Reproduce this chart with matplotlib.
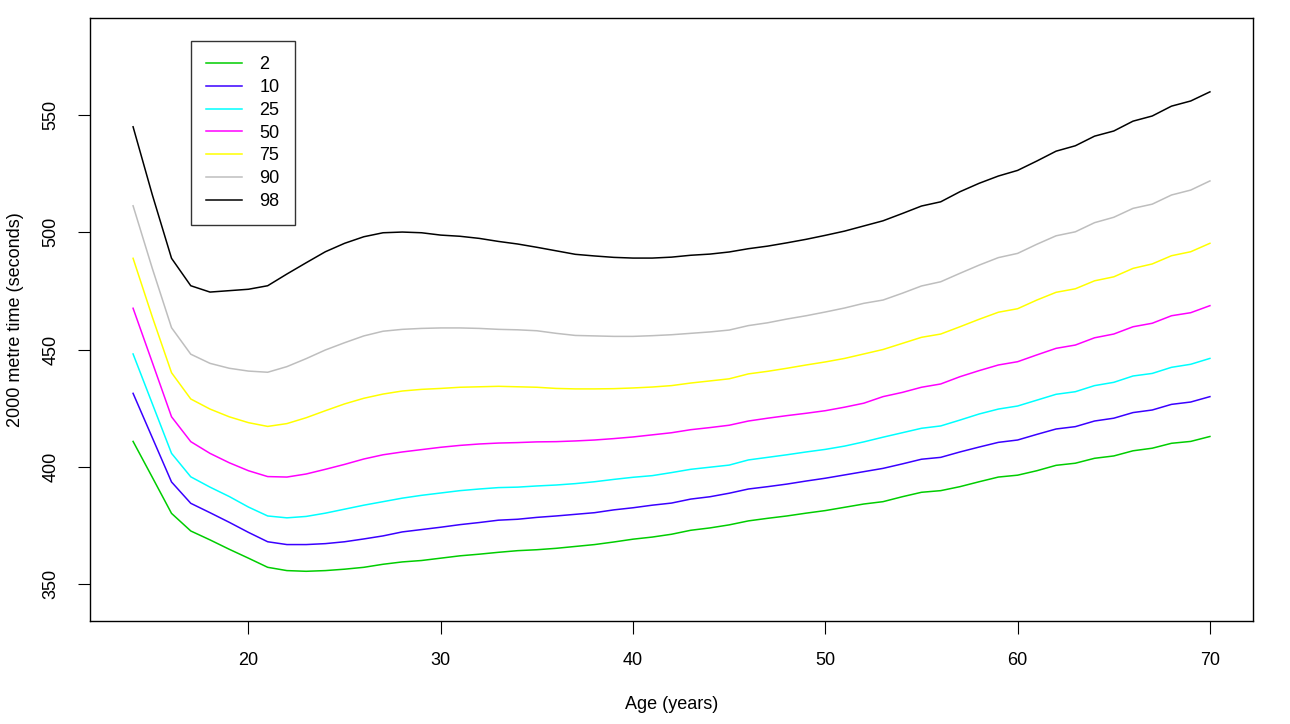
import numpy as np
import matplotlib.pyplot as plt

plt.rcParams['font.family'] = ['Liberation Sans', 'DejaVu Sans']

# ages 14..70 (one point per year)
age = list(range(14, 71))

# centile curves (seconds)
c02 = [410.8, 395.5, 380.1, 372.6, 368.8, 364.8, 361.0, 357.1, 355.7, 355.4,
       355.7, 356.3, 357.1, 358.4, 359.4, 360.0, 361.0, 362.0, 362.7, 363.5,
       364.2, 364.6, 365.2, 366.0, 366.8, 367.9, 369.1, 370.0, 371.2, 372.9,
       373.9, 375.2, 376.9, 378.0, 379.0, 380.2, 381.3, 382.7, 384.1, 385.1,
       387.2, 389.1, 389.8, 391.5, 393.6, 395.6, 396.4, 398.3, 400.6, 401.5,
       403.6, 404.6, 406.8, 407.9, 410.0, 410.8, 412.9]
c10 = [431.3, 412.4, 393.5, 384.4, 380.4, 376.3, 372.0, 368.0, 366.8, 366.8,
       367.2, 368.0, 369.2, 370.5, 372.2, 373.2, 374.2, 375.3, 376.2, 377.2,
       377.6, 378.4, 379.0, 379.7, 380.4, 381.6, 382.5, 383.6, 384.5, 386.2,
       387.2, 388.7, 390.5, 391.5, 392.6, 393.9, 395.1, 396.5, 397.9, 399.3,
       401.2, 403.2, 404.0, 406.3, 408.4, 410.4, 411.4, 413.8, 416.1, 417.1,
       419.5, 420.7, 423.1, 424.2, 426.6, 427.6, 429.9]
c25 = [448.1, 426.9, 405.7, 395.7, 391.3, 387.3, 382.8, 379.0, 378.2, 378.8,
       380.2, 381.9, 383.6, 385.1, 386.6, 387.8, 388.8, 389.8, 390.5, 391.1,
       391.3, 391.8, 392.2, 392.8, 393.6, 394.6, 395.5, 396.2, 397.5, 398.9,
       399.8, 400.7, 402.9, 404.0, 405.1, 406.3, 407.4, 408.8, 410.6, 412.6,
       414.5, 416.4, 417.4, 419.9, 422.5, 424.6, 425.9, 428.4, 430.9, 432.0,
       434.6, 436.0, 438.7, 439.8, 442.4, 443.7, 446.2]
c50 = [467.6, 444.5, 421.3, 410.7, 405.7, 401.7, 398.3, 395.8, 395.6, 396.9,
       398.9, 401.0, 403.3, 405.1, 406.3, 407.3, 408.3, 409.1, 409.7, 410.1,
       410.3, 410.6, 410.7, 411.0, 411.4, 412.0, 412.7, 413.6, 414.5, 415.8,
       416.7, 417.7, 419.5, 420.7, 421.8, 422.8, 423.9, 425.4, 427.1, 429.9,
       431.7, 433.9, 435.3, 438.4, 441.0, 443.4, 444.8, 447.7, 450.5, 451.9,
       455.0, 456.6, 459.7, 461.2, 464.4, 465.7, 468.7]
c75 = [488.9, 463.9, 440.1, 428.9, 424.6, 421.3, 418.8, 417.2, 418.4, 420.9,
       423.9, 426.8, 429.2, 431.0, 432.3, 433.0, 433.4, 433.9, 434.1, 434.3,
       434.1, 433.9, 433.4, 433.2, 433.2, 433.3, 433.6, 434.0, 434.6, 435.7,
       436.6, 437.5, 439.6, 440.7, 442.0, 443.4, 444.7, 446.2, 448.1, 450.0,
       452.6, 455.2, 456.6, 459.7, 462.9, 465.9, 467.4, 471.1, 474.4, 475.9,
       479.3, 481.0, 484.6, 486.5, 490.0, 491.7, 495.3]
c90 = [511.3, 484.6, 459.3, 448.0, 444.1, 442.0, 440.8, 440.3, 442.7, 446.1,
       449.8, 452.9, 455.8, 457.8, 458.6, 459.0, 459.2, 459.2, 459.0, 458.6,
       458.4, 458.0, 456.9, 456.0, 455.8, 455.6, 455.6, 455.9, 456.3, 456.9,
       457.5, 458.3, 460.2, 461.4, 463.0, 464.4, 466.0, 467.7, 469.7, 471.1,
       474.0, 477.1, 478.9, 482.5, 486.0, 489.2, 491.0, 494.9, 498.5, 500.2,
       504.1, 506.4, 510.2, 512.0, 515.9, 518.0, 521.9]
c98 = [545.0, 516.0, 488.9, 477.2, 474.5, 475.1, 475.7, 477.2, 482.2, 487.0,
       491.7, 495.3, 498.1, 499.8, 500.1, 499.8, 498.8, 498.3, 497.4, 496.1,
       495.0, 493.6, 492.1, 490.6, 489.9, 489.3, 489.0, 489.0, 489.4, 490.2,
       490.7, 491.6, 493.0, 494.1, 495.5, 497.0, 498.7, 500.5, 502.7, 504.9,
       508.0, 511.2, 513.0, 517.3, 520.9, 524.0, 526.4, 530.4, 534.6, 536.9,
       541.0, 543.2, 547.4, 549.6, 553.8, 556.0, 559.9]

labels = ['2', '10', '25', '50', '75', '90', '98']
colors = ['#00CD00', '#3a00ff', '#00FFFF', '#FF00FF', '#FFFF00', '#BEBEBE', '#000000']
curves = [c02, c10, c25, c50, c75, c90, c98]

fig = plt.figure(figsize=(12.9, 7.24), dpi=100)
ax = fig.add_axes([90 / 1290, 103 / 724, 1163 / 1290, 603 / 724])

for y, col, lab in zip(curves, colors, labels):
    ax.plot(age, y, color=col, lw=1.1, label=lab)

ax.set_xlim(11.76, 72.24)
ax.set_ylim(334.2, 591.4)
ax.set_xticks([20, 30, 40, 50, 60, 70])
ax.set_yticks([350, 400, 450, 500, 550])
ax.tick_params(direction='out', length=9, width=0.8, labelsize=13, pad=13)
plt.setp(ax.get_yticklabels(), rotation=90, va='center')
for s in ax.spines.values():
    s.set_linewidth(1.0)

ax.set_xlabel('Age (years)', fontsize=13, labelpad=20)
ax.set_ylabel('2000 metre time (seconds)', fontsize=13, labelpad=13)

leg = ax.legend(loc='upper left', bbox_to_anchor=((191 - 90) / 1163, (621 - 41) / 603),
                borderaxespad=0, fontsize=13, frameon=True, fancybox=False,
                edgecolor='black', handlelength=2.0, handletextpad=0.95,
                labelspacing=0.32, borderpad=0.85)
leg.get_frame().set_linewidth(1.0)

fig.savefig('out.png', dpi=100)
